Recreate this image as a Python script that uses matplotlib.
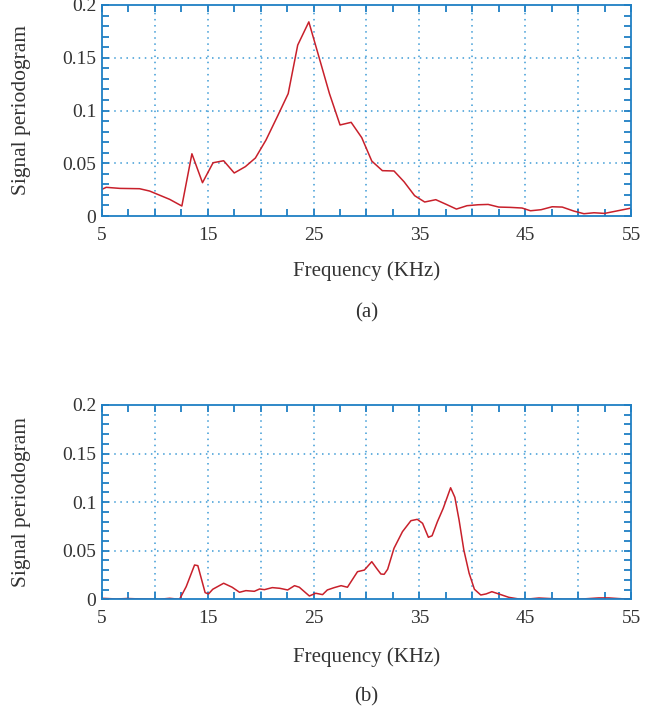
import matplotlib.pyplot as plt
from matplotlib.ticker import MultipleLocator, FixedLocator

# Periodogram (a)
freq_a = [5.0, 5.4, 6.7, 8.55, 9.5, 11.4, 12.55, 13.5, 14.5, 15.5, 16.5, 17.5, 18.55,
          19.5, 20.5, 21.6, 22.6, 23.5, 24.55, 25.5, 26.5, 27.5, 28.55, 29.55, 30.5,
          31.5, 32.6, 33.55, 34.55, 35.5, 36.55, 37.55, 38.5, 39.5, 40.55, 41.5, 42.5,
          43.6, 44.7, 45.5, 46.5, 47.55, 48.5, 49.6, 50.55, 51.5, 52.5, 53.5, 55.0]
pgram_a = [0.0253, 0.0272, 0.0262, 0.0259, 0.0237, 0.0158, 0.0095, 0.059, 0.0316, 0.0505,
           0.0524, 0.0408, 0.0468, 0.055, 0.072, 0.0948, 0.116, 0.162, 0.184, 0.151,
           0.116, 0.0863, 0.0888, 0.0743, 0.0521, 0.043, 0.0427, 0.0325, 0.0193, 0.0133,
           0.0155, 0.011, 0.0066, 0.0098, 0.0107, 0.011, 0.0085, 0.0082, 0.0076, 0.005,
           0.006, 0.0088, 0.0085, 0.0047, 0.0022, 0.0031, 0.0025, 0.0045, 0.0075]

# Periodogram (b)
freq_b = [5.0, 6.4, 7.4, 8.7, 10.4, 11.4, 12.33, 12.96, 13.75, 14.06, 14.75, 15.07, 15.47,
          16.5, 17.3, 18.0, 18.6, 19.4, 19.9, 20.35, 21.1, 21.8, 22.55, 23.2, 23.65,
          24.6, 25.2, 25.85, 26.3, 26.95, 27.6, 28.2, 29.15, 29.8, 30.5, 30.95, 31.36,
          31.67, 32.0, 32.6, 33.4, 34.2, 34.8, 35.3, 35.85, 36.2, 36.7, 37.25, 37.95,
          38.35, 38.75, 39.2, 39.7, 40.2, 40.8, 41.3, 41.85, 42.5, 43.45, 44.4, 45.0,
          46.3, 47.4, 48.5, 49.8, 50.7, 51.95, 52.9, 53.85, 55.0]
pgram_b = [0.001, 0.0003, 0.0008, 0.0003, 0.0, 0.001, 0.0, 0.013, 0.0353, 0.0346, 0.0068,
           0.0055, 0.0103, 0.0165, 0.0124, 0.0072, 0.0089, 0.0082, 0.0106, 0.0099,
           0.012, 0.0113, 0.0096, 0.014, 0.0124, 0.0034, 0.0062, 0.0048, 0.0096, 0.012,
           0.014, 0.0124, 0.0284, 0.0301, 0.0387, 0.0319, 0.026, 0.0257, 0.0309, 0.0525,
           0.0696, 0.0809, 0.0823, 0.0782, 0.0638, 0.0654, 0.0798, 0.0936, 0.1148, 0.105,
           0.0816, 0.0507, 0.0268, 0.0103, 0.0044, 0.0055, 0.0078, 0.0055, 0.002, 0.0003,
           0.0, 0.0013, 0.0007, 0.0, 0.0, 0.0005, 0.0014, 0.0014, 0.0007, 0.0]

x_labels = [5, 15, 25, 35, 45, 55]
y_ticks = [0, 0.05, 0.1, 0.15, 0.2]
y_tick_labels = ['0', '0.05', '0.1', '0.15', '0.2']

plt.rcParams['font.family'] = ['Liberation Serif', 'DejaVu Serif']

spine_col = '#1f7fc4'
grid_col = '#3d9bd6'
line_col = '#c8202b'
text_col = '#333333'

fig = plt.figure(figsize=(6.7, 7.13), dpi=100)
ax_a = fig.add_axes([0.1522, 0.697, 0.7896, 0.296])
ax_b = fig.add_axes([0.1522, 0.1595, 0.7896, 0.2725])


def style_axes(ax):
    ax.set_xlim(5, 55)
    ax.set_ylim(0, 0.2)
    ax.xaxis.set_major_locator(FixedLocator(x_labels))
    ax.xaxis.set_minor_locator(MultipleLocator(2.5))
    ax.set_xticklabels([str(v) for v in x_labels])
    ax.set_yticks(y_ticks)
    ax.set_yticklabels(y_tick_labels)
    ax.yaxis.set_minor_locator(MultipleLocator(0.01))
    ax.tick_params(which='both', direction='in', top=True, right=True,
                   color=spine_col, width=1.3, length=5, labelcolor=text_col,
                   labelsize=14)
    ax.tick_params(axis='x', pad=8)
    ax.tick_params(axis='y', pad=4)
    for s in ax.spines.values():
        s.set_color(spine_col)
        s.set_linewidth(1.3)
    # grid every 5 kHz and every 0.05
    for gx in range(10, 55, 5):
        ax.axvline(gx, color=grid_col, lw=1.1, ls=(0, (1, 3)), zorder=0)
    for gy in [0.05, 0.1, 0.15]:
        ax.axhline(gy, color=grid_col, lw=1.1, ls=(0, (1, 3)), zorder=0)


style_axes(ax_a)
style_axes(ax_b)

ax_a.plot(freq_a, pgram_a, color=line_col, lw=1.1)
ax_b.plot(freq_b, pgram_b, color=line_col, lw=1.1)

cx = 0.547
fig.text(0.032, 0.846, 'Signal periodogram', rotation=90, ha='center', va='center',
         fontsize=15.5, color=text_col)
fig.text(cx, 0.62, 'Frequency (KHz)', ha='center', va='center', fontsize=15, color=text_col)
fig.text(cx, 0.561, '(a)', ha='center', va='center', fontsize=15, color=text_col)

fig.text(0.032, 0.296, 'Signal periodogram', rotation=90, ha='center', va='center',
         fontsize=15.5, color=text_col)
fig.text(cx, 0.0785, 'Frequency (KHz)', ha='center', va='center', fontsize=15, color=text_col)
fig.text(cx, 0.0224, '(b)', ha='center', va='center', fontsize=15, color=text_col)

fig.savefig('out.png', dpi=100)
